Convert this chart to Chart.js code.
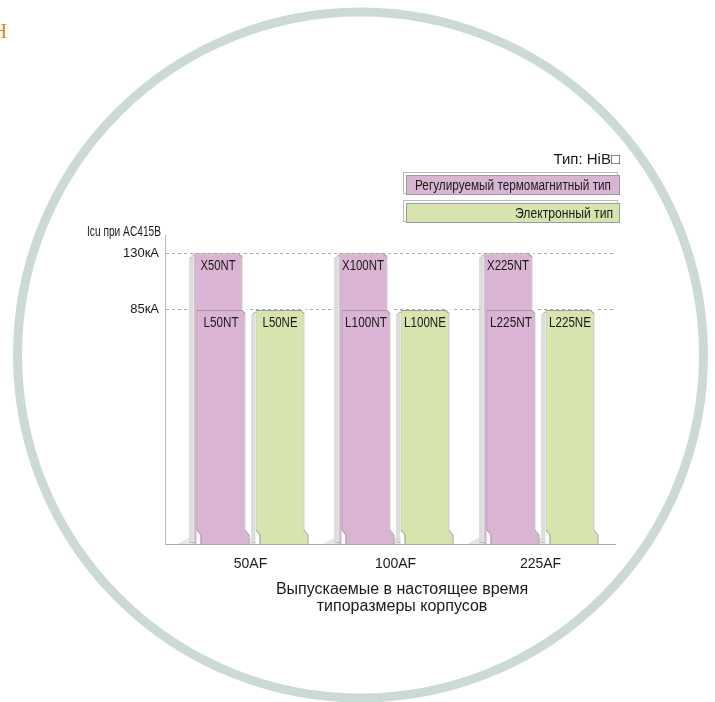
<!DOCTYPE html>
<html>
<head>
<meta charset="utf-8">
<script src="https://cdn.jsdelivr.net/npm/chart.js@4/dist/chart.umd.min.js"></script>
<style>
  html, body { margin: 0; padding: 0; background: #fff; }
  #wrap { width: 715px; height: 702px; position: relative; overflow: hidden; }
</style>
</head>
<body>
<div id="wrap"><canvas id="chart" width="715" height="702"></canvas></div>
<script>
// categories (frame sizes) and their place on the x axis
const frames = ["50AF", "100AF", "225AF"];
const framePos = [0, 1, 2];

// breaking capacity, kA
const ntValues = [85, 85, 85];
const xntValues = [130, 130, 130];
const neValues = [85, 85, 85];

const ntNames = ["L50NT", "L100NT", "L225NT"];
const xntNames = ["X50NT", "X100NT", "X225NT"];
const neNames = ["L50NE", "L100NE", "L225NE"];

const yTicks = [85, 130];
const yTickLabels = ["85кА", "130кА"];

const legendLabels = ["Регулируемый термомагнитный тип", "Электронный тип"];
const typeLabel = "Тип: HiB□";
const yTitle = "Icu при AC415B";
const xTitle = ["Выпускаемые в настоящее время", "типоразмеры корпусов"];

const PINK = "#dab5d3";
const GREEN = "#d8e4ae";
const EDGE = "#9c9c9c";
const FONT = '"Liberation Sans", Arial, sans-serif';

// squeezed text, the original uses a condensed face
function label(ctx, text, x, y, size, maxW) {
    ctx.font = size + "px " + FONT;
    ctx.fillText(text, x, y, maxW);
}

const deco = {
    id: "deco",
    beforeDraw(chart) {
        const ctx = chart.ctx;
        ctx.save();
        ctx.fillStyle = "#fff";
        ctx.fillRect(0, 0, chart.width, chart.height);
        // big ring
        ctx.beginPath();
        ctx.arc(360.5, 355, 343, 0, Math.PI * 2);
        ctx.lineWidth = 9;
        ctx.strokeStyle = "#cbdad4";
        ctx.stroke();
        // cut off heading letter
        ctx.fillStyle = "#e5831a";
        ctx.font = "21px 'Liberation Serif', serif";
        ctx.textBaseline = "alphabetic";
        ctx.fillText("Н", -8, 38);
        ctx.restore();
    },
    beforeDatasetsDraw(chart) {
        // stacked-paper outlines behind each bar
        const ctx = chart.ctx;
        ctx.save();
        chart.data.datasets.forEach((ds, di) => {
            const meta = chart.getDatasetMeta(di);
            const dx = ds.shift || 0;
            meta.data.forEach(bar => {
                const l = bar.x - bar.width / 2 + dx;
                const top = bar.y;
                const bottom = bar.base;
                // soft shadow on the floor
                ctx.fillStyle = "#e6e8e6";
                ctx.beginPath();
                ctx.moveTo(l - 16, bottom);
                ctx.lineTo(l, bottom - 9);
                ctx.lineTo(l + 6, bottom);
                ctx.closePath();
                ctx.fill();
                for (let k = 2; k >= 1; k--) {
                    ctx.fillStyle = "#fff";
                    ctx.strokeStyle = "#bcbcbc";
                    ctx.lineWidth = 1;
                    ctx.fillRect(l - 2 * k, top + 2 * k, bar.width, bottom - top - 2 * k - 2);
                    ctx.strokeRect(l - 2 * k + 0.5, top + 2 * k + 0.5, bar.width - 1, bottom - top - 2 * k - 2);
                }
            });
        });
        ctx.restore();
    },
    beforeDatasetDraw(chart, args) {
        const ds = chart.data.datasets[args.index];
        chart.ctx.save();
        if (ds.shift) chart.ctx.translate(ds.shift, 0);
    },
    afterDatasetDraw(chart) {
        chart.ctx.restore();
    },
    afterDatasetsDraw(chart) {
        const ctx = chart.ctx;
        ctx.save();
        chart.data.datasets.forEach((ds, di) => {
            const meta = chart.getDatasetMeta(di);
            const dx = ds.shift || 0;
            meta.data.forEach((bar, i) => {
                const r = bar.x + bar.width / 2 + dx;
                const l = bar.x - bar.width / 2 + dx;
                const top = bar.y;
                const bottom = bar.base;
                // clipped top-right corner
                ctx.fillStyle = "#fff";
                ctx.beginPath();
                ctx.moveTo(r - 4, top - 1);
                ctx.lineTo(r + 1, top - 1);
                ctx.lineTo(r + 1, top + 4);
                ctx.closePath();
                ctx.fill();
                ctx.strokeStyle = EDGE;
                ctx.lineWidth = 1;
                ctx.beginPath();
                ctx.moveTo(r - 4, top + 0.5);
                ctx.lineTo(r - 0.5, top + 4);
                ctx.stroke();
                // folded foot of the sheet
                if (!ds.shift) {
                    ctx.fillStyle = ds.backgroundColor;
                    ctx.beginPath();
                    ctx.moveTo(r - 1, bottom - 14);
                    ctx.lineTo(r + 3, bottom - 9);
                    ctx.lineTo(r + 3, bottom);
                    ctx.lineTo(r - 1, bottom);
                    ctx.closePath();
                    ctx.fill();
                    ctx.strokeStyle = EDGE;
                    ctx.beginPath();
                    ctx.moveTo(r - 0.5, bottom - 14);
                    ctx.lineTo(r + 3.5, bottom - 9);
                    ctx.lineTo(r + 3.5, bottom);
                    ctx.stroke();
                    ctx.fillStyle = "#fff";
                    ctx.beginPath();
                    ctx.moveTo(l, bottom - 14);
                    ctx.lineTo(l + 4, bottom - 9);
                    ctx.lineTo(l + 4, bottom);
                    ctx.lineTo(l, bottom);
                    ctx.closePath();
                    ctx.fill();
                    ctx.strokeStyle = EDGE;
                    ctx.beginPath();
                    ctx.moveTo(l + 0.5, bottom - 14);
                    ctx.lineTo(l + 4.5, bottom - 9);
                    ctx.lineTo(l + 4.5, bottom);
                    ctx.stroke();
                }
                // model name
                ctx.fillStyle = "#1a1a1a";
                ctx.textAlign = "center";
                ctx.textBaseline = "middle";
                label(ctx, ds.names[i], bar.x + dx, top + 13, 14, ds.names[i].length * 7);
            });
        });
        ctx.restore();
    },
    afterDraw(chart) {
        const ctx = chart.ctx;
        ctx.save();
        ctx.fillStyle = "#1a1a1a";
        ctx.textBaseline = "middle";

        // y axis title
        ctx.textAlign = "left";
        label(ctx, yTitle, 87, 232, 14, 74);

        // type caption and legend boxes
        ctx.textAlign = "right";
        label(ctx, typeLabel, 620, 160, 15, 68);

        const boxes = [
            { y: 175, color: PINK, align: "left", w: 196 },
            { y: 203, color: GREEN, align: "right", w: 98 }
        ];
        boxes.forEach((b, i) => {
            const x0 = 406, w = 214, h = 20;
            ctx.strokeStyle = "#bcbcbc";
            ctx.lineWidth = 1;
            ctx.strokeRect(x0 - 2.5, b.y - 2.5, w, h + 1);
            ctx.fillStyle = b.color;
            ctx.fillRect(x0, b.y, w, h);
            ctx.strokeStyle = EDGE;
            ctx.strokeRect(x0 + 0.5, b.y + 0.5, w - 1, h - 1);
            ctx.fillStyle = "#1a1a1a";
            ctx.textAlign = b.align;
            label(ctx, legendLabels[i], b.align === "left" ? x0 + 9 : x0 + w - 7, b.y + h / 2 + 1, 14, b.w);
        });

        // x axis title
        ctx.font = "16px " + FONT;
        ctx.textAlign = "center";
        ctx.fillText(xTitle[0], 402, 590);
        ctx.fillText(xTitle[1], 402, 607);
        ctx.restore();
    }
};

const ctx = document.getElementById("chart").getContext("2d");
new Chart(ctx, {
    type: "bar",
    data: {
        datasets: [
            {
                label: legendLabels[0],
                data: framePos.map((x, i) => ({ x: x, y: ntValues[i] })),
                names: ntNames,
                stack: "nt",
                backgroundColor: PINK
            },
            {
                label: legendLabels[0],
                data: framePos.map((x, i) => ({ x: x, y: xntValues[i] })),
                names: xntNames,
                stack: "nt",
                shift: -3,
                backgroundColor: PINK
            },
            {
                label: legendLabels[1],
                data: framePos.map((x, i) => ({ x: x, y: neValues[i] })),
                names: neNames,
                stack: "ne",
                backgroundColor: GREEN
            }
        ]
    },
    options: {
        responsive: false,
        animation: false,
        devicePixelRatio: 1,
        layout: { padding: { left: 105, right: 100, top: 235, bottom: 134 } },
        datasets: {
            bar: {
                base: -101,
                borderColor: EDGE,
                borderWidth: 1,
                categoryPercentage: 0.814,
                barPercentage: 0.83
            }
        },
        plugins: {
            legend: { display: false },
            tooltip: { enabled: false }
        },
        scales: {
            x: {
                type: "linear",
                bounds: "data",
                offset: false,
                min: -0.5897,
                max: 2.5138,
                afterBuildTicks: s => { s.ticks = framePos.map(v => ({ value: v })); },
                afterFit: s => { s.height = 24; },
                grid: { display: false, offset: false },
                border: { display: true, color: "#a8a8a8", width: 1 },
                ticks: {
                    padding: 4,
                    color: "#1a1a1a",
                    font: { family: FONT, size: 14 },
                    callback: v => frames[framePos.indexOf(v)]
                }
            },
            y: {
                stacked: false,
                min: -101,
                max: 144.5,
                afterBuildTicks: s => { s.ticks = yTicks.map(v => ({ value: v })); },
                afterFit: s => { s.width = 60; },
                grid: { color: "#a8a8a8", lineWidth: 1, drawTicks: false },
                border: { display: true, color: "#bdbdbd", width: 1, dash: [3, 3] },
                ticks: {
                    padding: 6,
                    color: "#1a1a1a",
                    font: { family: FONT, size: 13 },
                    callback: v => yTickLabels[yTicks.indexOf(v)]
                }
            }
        }
    },
    plugins: [deco]
});
</script>
</body>
</html>
